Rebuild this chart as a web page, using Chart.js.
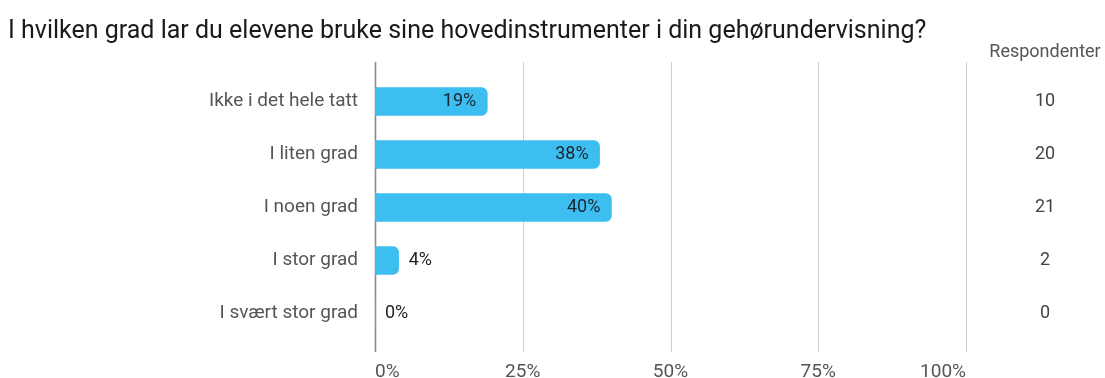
<!DOCTYPE html>
<html>
<head>
<meta charset="utf-8">
<script src="https://cdn.jsdelivr.net/npm/chart.js@4/dist/chart.umd.min.js"></script>
<style>
  body { margin: 0; background: #fff; }
  #boks { width: 1105px; height: 378px; position: relative; }
</style>
</head>
<body>
<div id="boks"><canvas id="graf"></canvas></div>
<script>
const tittel = "I hvilken grad lar du elevene bruke sine hovedinstrumenter i din gehørundervisning?";
const kategorier = ["Ikke i det hele tatt", "I liten grad", "I noen grad", "I stor grad", "I svært stor grad"];
const prosent = [19, 38, 40, 4, 0];
const respondenter = [10, 20, 21, 2, 0];
const xEtiketter = ["0%", "25%", "50%", "75%", "100%"];

const blaa = "#3cbff0";
const font = "Roboto, 'Liberation Sans', Arial, sans-serif";

// vertikale rutenettlinjer, litt lengre enn selve plottområdet
const rutenett = {
  id: "rutenett",
  beforeDatasetsDraw(chart) {
    const { ctx, chartArea, scales } = chart;
    ctx.save();
    scales.x.ticks.forEach((t, i) => {
      const x = Math.round(scales.x.getPixelForValue(t.value)) + 0.5;
      ctx.beginPath();
      ctx.strokeStyle = i === 0 ? "#8a8a8a" : "#cfcfcf";
      ctx.lineWidth = i === 0 ? 1.6 : 1;
      ctx.moveTo(x, chartArea.top - 13);
      ctx.lineTo(x, chartArea.bottom + 12);
      ctx.stroke();
    });
    ctx.restore();
  }
};

// prosentetiketter på stolpene og kolonnen med antall respondenter
const etiketter = {
  id: "etiketter",
  afterDatasetsDraw(chart) {
    const { ctx, scales } = chart;
    const meta = chart.getDatasetMeta(0);
    ctx.save();
    ctx.font = "18px " + font;
    ctx.textBaseline = "middle";
    meta.data.forEach((bar, i) => {
      const tekst = prosent[i] + "%";
      const w = ctx.measureText(tekst).width;
      const lengde = bar.x - bar.base;
      if (lengde > w + 20) {
        ctx.textAlign = "right";
        ctx.fillStyle = "#1c2433";
        ctx.fillText(tekst, bar.x - 11, bar.y);
      } else {
        ctx.textAlign = "left";
        ctx.fillStyle = "#222";
        ctx.fillText(tekst, bar.x + 10, bar.y);
      }
    });

    ctx.textAlign = "center";
    ctx.fillStyle = "#555";
    ctx.fillText("Respondenter", 1045, 52);
    ctx.fillStyle = "#444";
    ctx.font = "18px " + font;
    respondenter.forEach((n, i) => {
      ctx.fillText(String(n), 1045, scales.y.getPixelForValue(i));
    });
    ctx.restore();
  }
};

new Chart(document.querySelector("#graf"), {
  type: "bar",
  data: {
    labels: kategorier,
    datasets: [{
      data: prosent,
      backgroundColor: blaa,
      barThickness: 28,
      borderRadius: 6,
      borderSkipped: "start"
    }]
  },
  options: {
    indexAxis: "y",
    responsive: true,
    maintainAspectRatio: false,
    animation: false,
    layout: { padding: { left: 8, right: 139, top: 0, bottom: 0 } },
    plugins: {
      legend: { display: false },
      tooltip: { enabled: false },
      title: {
        display: true,
        text: tittel,
        align: "start",
        color: "#1a1a1a",
        font: { family: font, size: 25, weight: "normal", lineHeight: 1.2 },
        padding: { top: 17, bottom: 28 }
      }
    },
    scales: {
      x: {
        min: 0,
        max: 100,
        ticks: {
          stepSize: 25,
          align: "inner",
          padding: 21,
          color: "#555",
          font: { family: font, size: 19 },
          callback: (v, i) => xEtiketter[i]
        },
        grid: { display: false, drawTicks: false },
        border: { display: false },
        afterFit(s) { s.height = 38; }
      },
      y: {
        ticks: {
          padding: 17,
          color: "#555",
          font: { family: font, size: 19 }
        },
        grid: { display: false, drawTicks: false },
        border: { display: false },
        afterFit(s) { s.width = 367; }
      }
    }
  },
  plugins: [rutenett, etiketter]
});
</script>
</body>
</html>
